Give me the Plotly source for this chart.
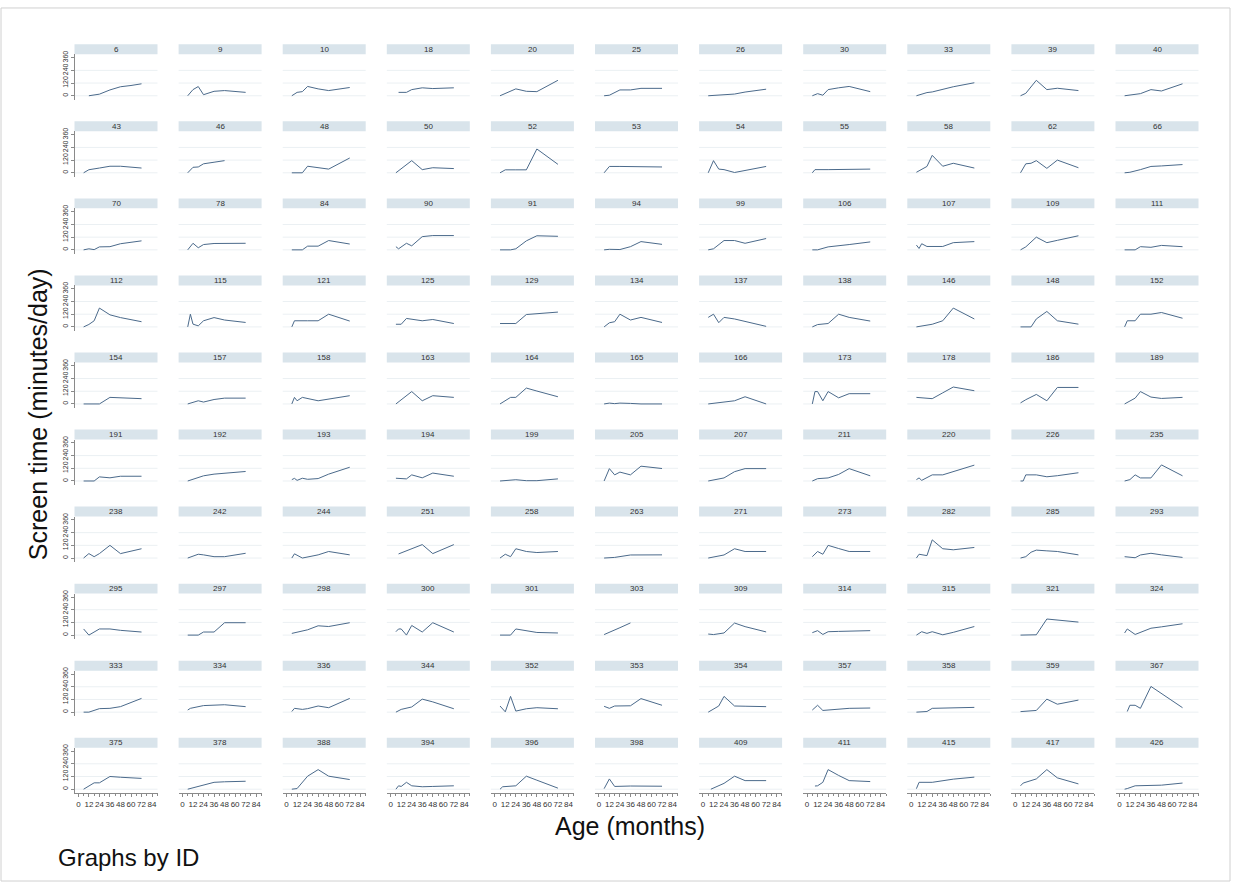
import plotly.graph_objects as go

# Child IDs, one panel each (11 columns x 10 rows)
ids = [6, 9, 10, 18, 20, 25, 26, 30, 33, 39, 40,
       43, 46, 48, 50, 52, 53, 54, 55, 58, 62, 66,
       70, 78, 84, 90, 91, 94, 99, 106, 107, 109, 111,
       112, 115, 121, 125, 129, 134, 137, 138, 146, 148, 152,
       154, 157, 158, 163, 164, 165, 166, 173, 178, 186, 189,
       191, 192, 193, 194, 199, 205, 207, 211, 220, 226, 235,
       238, 242, 244, 251, 258, 263, 271, 273, 282, 285, 293,
       295, 297, 298, 300, 301, 303, 309, 314, 315, 321, 324,
       333, 334, 336, 344, 352, 353, 354, 357, 358, 359, 367,
       375, 378, 388, 394, 396, 398, 409, 411, 415, 417, 426]

# Age at each visit (months), per child
ages = [
    [12, 24, 36, 48, 60, 72], [6, 12, 18, 24, 36, 48, 72], [6, 12, 18, 24, 36, 48, 72],
    [9, 18, 24, 36, 48, 72], [6, 24, 36, 48, 72], [6, 12, 24, 36, 48, 72],
    [6, 24, 36, 48, 72], [6, 12, 18, 24, 36, 48, 72], [6, 18, 24, 36, 48, 72],
    [6, 12, 24, 36, 48, 72], [6, 12, 24, 36, 48, 72],
    [6, 12, 24, 36, 48, 72], [6, 12, 18, 24, 36, 48], [6, 18, 24, 36, 48, 72],
    [6, 24, 36, 48, 72], [6, 12, 24, 36, 48, 72], [6, 12, 24, 36, 48, 72],
    [6, 12, 18, 24, 36, 48, 72], [6, 9, 24, 36, 48, 72], [6, 12, 18, 24, 36, 48, 72],
    [6, 12, 18, 24, 36, 48, 72], [6, 12, 24, 36, 48, 72],
    [6, 12, 18, 24, 36, 48, 72], [6, 12, 18, 24, 36, 48, 72], [6, 18, 24, 36, 48, 72],
    [6, 9, 18, 24, 36, 48, 72], [6, 18, 24, 36, 48, 72], [6, 12, 24, 36, 48, 72],
    [6, 12, 24, 36, 48, 72], [6, 12, 24, 36, 48, 72], [6, 9, 12, 18, 36, 48, 72],
    [6, 12, 24, 36, 48, 72], [6, 18, 24, 36, 48, 72],
    [6, 12, 18, 24, 36, 48, 72], [6, 9, 12, 18, 24, 36, 48, 72], [6, 9, 24, 36, 48, 72],
    [6, 12, 18, 36, 48, 72], [6, 24, 36, 48, 72], [6, 12, 18, 24, 36, 48, 72],
    [6, 12, 18, 24, 36, 72], [6, 12, 24, 36, 48, 72], [6, 24, 36, 48, 72],
    [6, 18, 24, 36, 48, 72], [6, 9, 18, 24, 36, 48, 72],
    [6, 12, 24, 36, 48, 72], [6, 18, 24, 36, 48, 72], [6, 9, 12, 18, 36, 48, 72],
    [6, 24, 36, 48, 72], [6, 18, 24, 36, 48, 72], [6, 12, 18, 24, 36, 48, 72],
    [6, 24, 36, 48, 72], [6, 9, 12, 18, 24, 36, 48, 72], [6, 24, 36, 48, 72],
    [6, 12, 24, 36, 48, 72], [6, 18, 24, 36, 48, 72],
    [6, 18, 24, 36, 48, 72], [6, 24, 36, 48, 72], [6, 9, 12, 18, 24, 36, 48, 72],
    [6, 18, 24, 36, 48, 72], [6, 24, 36, 48, 72], [6, 12, 18, 24, 36, 48, 72],
    [6, 24, 36, 48, 72], [6, 12, 24, 36, 48, 72], [6, 9, 12, 24, 36, 48, 72],
    [6, 9, 12, 24, 36, 48, 72], [6, 12, 18, 24, 36, 48, 72],
    [6, 12, 18, 24, 36, 48, 72], [6, 18, 24, 36, 48, 72], [6, 9, 18, 36, 48, 72],
    [9, 36, 48, 72], [6, 12, 18, 24, 36, 48, 72], [6, 18, 36, 48, 72],
    [6, 18, 24, 36, 48, 72], [6, 12, 18, 24, 36, 48, 72], [6, 9, 18, 24, 36, 48, 72],
    [6, 12, 18, 24, 36, 48, 72], [6, 12, 18, 24, 36, 48, 72],
    [6, 12, 24, 36, 48, 72], [6, 18, 24, 36, 48, 72], [6, 18, 24, 36, 48, 72],
    [6, 9, 12, 18, 24, 36, 48, 72], [6, 18, 24, 36, 48, 72], [6, 12, 24, 36],
    [6, 12, 24, 36, 48, 72], [6, 12, 18, 24, 36, 48, 72], [6, 12, 18, 24, 36, 48, 72],
    [6, 24, 36, 48, 72], [6, 9, 18, 24, 36, 48, 72],
    [6, 12, 24, 36, 48, 60, 72], [6, 9, 24, 36, 48, 72], [6, 9, 18, 24, 36, 48, 72],
    [6, 12, 24, 36, 48, 72], [6, 12, 18, 24, 36, 48, 72], [6, 12, 18, 36, 48, 72],
    [6, 18, 24, 36, 48, 72], [6, 12, 18, 36, 48, 72], [6, 18, 24, 36, 48, 72],
    [6, 24, 36, 48, 72], [9, 12, 18, 24, 36, 48, 72],
    [6, 18, 24, 36, 48, 72], [6, 24, 36, 48, 72], [6, 12, 24, 36, 48, 72],
    [6, 9, 12, 18, 24, 36, 48, 72], [6, 9, 24, 36, 48, 72], [6, 12, 18, 36, 72],
    [9, 24, 36, 48, 72], [9, 12, 18, 24, 36, 48, 72], [6, 9, 24, 36, 48, 72],
    [6, 9, 24, 36, 48, 72], [6, 9, 18, 36, 48, 72],
]

# Screen time (minutes/day) at each visit, per child
minutes = [
    [0, 15, 55, 85, 97, 113], [0, 58, 87, 10, 42, 49, 32], [0, 32, 39, 88, 65, 49, 78],
    [32, 32, 58, 75, 68, 75], [0, 65, 42, 39, 146], [0, 5, 55, 55, 70, 70],
    [0, 8, 16, 35, 62], [0, 20, 5, 58, 75, 88, 39], [0, 30, 36, 62, 85, 123],
    [0, 23, 146, 58, 71, 49], [0, 5, 20, 58, 45, 113],
    [0, 29, 45, 62, 62, 45], [0, 52, 55, 85, 100, 115], [0, 0, 62, 50, 35, 140],
    [0, 115, 30, 48, 40], [0, 28, 28, 28, 225, 80], [0, 60, 60, 60, 60, 55],
    [0, 115, 35, 30, 3, 20, 60], [0, 30, 30, 32, 33, 35], [5, 35, 60, 165, 62, 90, 45],
    [0, 85, 90, 115, 42, 120, 48], [0, 5, 30, 60, 65, 78],
    [0, 10, 2, 28, 30, 58, 85], [0, 62, 20, 50, 60, 62, 62], [0, 0, 35, 35, 88, 55],
    [30, 10, 62, 38, 125, 135, 135], [0, 0, 10, 85, 133, 128], [0, 5, 3, 30, 78, 52],
    [0, 10, 88, 88, 62, 107], [0, 0, 28, 36, 50, 75], [45, 13, 58, 32, 32, 68, 78],
    [0, 28, 120, 68, 90, 133], [0, 0, 30, 24, 42, 30],
    [0, 23, 58, 178, 114, 88, 49], [0, 120, 26, 10, 58, 88, 65, 42], [0, 58, 58, 58, 120, 55],
    [25, 25, 80, 58, 70, 32], [32, 32, 117, 125, 140], [0, 39, 49, 120, 65, 90, 42],
    [90, 120, 40, 90, 75, 5], [0, 22, 32, 120, 90, 55], [0, 25, 58, 178, 75],
    [0, 0, 75, 146, 58, 26], [0, 58, 58, 120, 120, 136, 82],
    [0, 0, 0, 62, 58, 50], [0, 30, 18, 42, 55, 55], [0, 62, 30, 62, 30, 45, 78],
    [0, 117, 30, 78, 62], [0, 62, 62, 150, 122, 68], [0, 8, 3, 8, 5, 0, 0],
    [0, 20, 30, 68, 0], [0, 117, 117, 30, 117, 58, 97, 97], [62, 50, 105, 160, 125],
    [10, 40, 90, 30, 156, 156], [0, 55, 117, 65, 52, 62],
    [0, 0, 39, 30, 45, 45], [0, 49, 65, 75, 90], [13, 25, 6, 26, 16, 23, 65, 130],
    [26, 20, 58, 30, 75, 45], [0, 12, 3, 3, 20], [0, 117, 58, 84, 58, 140, 118],
    [0, 29, 88, 117, 117], [0, 22, 29, 62, 117, 49], [13, 29, 6, 58, 58, 88, 150],
    [0, 0, 58, 58, 40, 50, 78], [0, 13, 58, 29, 29, 152, 49],
    [0, 42, 13, 42, 120, 42, 88], [0, 36, 30, 13, 13, 45], [0, 40, 0, 30, 62, 30],
    [39, 127, 42, 127], [0, 36, 13, 88, 62, 52, 62], [0, 6, 29, 30, 30],
    [0, 23, 29, 88, 62, 62], [13, 62, 36, 120, 90, 62, 62], [0, 36, 23, 172, 88, 78, 100],
    [0, 13, 55, 75, 68, 62, 30], [13, 6, 3, 29, 45, 30, 6],
    [58, 0, 58, 58, 45, 29], [0, 0, 29, 29, 117, 117], [16, 36, 50, 88, 81, 117],
    [32, 58, 58, 0, 91, 29, 117, 29], [0, 0, 58, 39, 25, 20], [5, 25, 70, 115],
    [10, 5, 20, 114, 80, 30], [23, 42, 6, 32, 35, 38, 42], [0, 32, 16, 32, 3, 26, 81],
    [0, 3, 152, 143, 123], [20, 58, 6, 26, 65, 78, 107],
    [0, 0, 33, 36, 52, 92, 130], [20, 36, 62, 65, 70, 52], [6, 36, 26, 33, 58, 42, 130],
    [0, 26, 49, 123, 97, 32], [58, 3, 149, 10, 32, 42, 32], [55, 36, 58, 60, 128, 65],
    [0, 58, 149, 58, 56, 52], [20, 65, 16, 32, 36, 39], [0, 6, 36, 38, 41, 45],
    [5, 16, 123, 75, 114], [6, 65, 65, 36, 243, 176, 42],
    [0, 60, 60, 120, 113, 102], [0, 39, 65, 70, 75], [0, 6, 123, 185, 123, 91],
    [0, 32, 26, 65, 32, 23, 26, 32], [0, 23, 32, 123, 85, 10], [5, 97, 26, 30, 28],
    [0, 55, 123, 81, 81], [30, 32, 65, 185, 130, 81, 72], [5, 65, 65, 80, 95, 114],
    [32, 58, 97, 185, 107, 50], [0, 6, 32, 32, 38, 58],
]

x_ticks = [0, 12, 24, 36, 48, 60, 72, 84]
y_ticks = [0, 120, 240, 360]
y_grid = [0, 120, 240]

W, H = 1233, 882
NCOL, NROW = 11, 10
COL_C0, COL_PITCH, HALF_W = 116.0, 104.1, 41.5
ROW_T0, ROW_PITCH, HEAD_H, PANEL_H = 40.5, 77.4, 10.0, 55.5

LINE_COLOR = "#4b6a8b"
HEAD_FILL = "#d9e4eb"
GRID_COLOR = "#ebf0f3"
AXIS_COLOR = "#8a8a8a"
NARROW = "Liberation Sans Narrow, Arial Narrow, Liberation Sans, Arial"
TICK_FONT = dict(family=NARROW, size=8, color="#333333")
MAIN_FONT = "Liberation Sans, Arial"


def fx(px):
    return px / W


def fy(py):
    return 1 - py / H


fig = go.Figure()
layout = dict(
    width=W, height=H, autosize=False,
    margin=dict(l=0, r=0, t=0, b=0),
    paper_bgcolor="white", plot_bgcolor="white",
    showlegend=False,
)
shapes = []
annotations = []

for i, pid in enumerate(ids):
    r, c = divmod(i, NCOL)
    k = "" if i == 0 else str(i + 1)
    left = COL_C0 + COL_PITCH * c - HALF_W
    right = COL_C0 + COL_PITCH * c + HALF_W
    top = ROW_T0 + ROW_PITCH * r
    head_bottom = top + HEAD_H
    bottom = top + PANEL_H

    fig.add_trace(go.Scatter(
        x=ages[i], y=minutes[i], mode="lines",
        line=dict(color=LINE_COLOR, width=1),
        xaxis="x" + k, yaxis="y" + k, hoverinfo="x+y",
    ))

    bottom_row = (r == NROW - 1)
    first_col = (c == 0)

    layout["xaxis" + k] = dict(
        domain=[fx(left), fx(right)], anchor="y" + k,
        range=[-4.4, 90.2], showgrid=False, zeroline=False,
        showline=bottom_row, linecolor=AXIS_COLOR, linewidth=1,
        tickvals=x_ticks if bottom_row else [],
        ticks="outside" if bottom_row else "", ticklen=3, tickcolor=AXIS_COLOR,
        showticklabels=bottom_row, tickangle=0, tickfont=TICK_FONT,
        minor=dict(dtick=6, tick0=0, ticks="outside" if bottom_row else "",
                   ticklen=2, tickcolor=AXIS_COLOR),
        fixedrange=True,
    )
    layout["yaxis" + k] = dict(
        domain=[fy(bottom), fy(head_bottom)], anchor="x" + k,
        range=[-36, 392], showgrid=False, zeroline=False,
        showline=first_col, linecolor=AXIS_COLOR, linewidth=1,
        tickvals=y_ticks if first_col else [],
        ticks="outside" if first_col else "", ticklen=3, tickcolor=AXIS_COLOR,
        showticklabels=first_col, tickangle=-90,
        tickfont=dict(family=NARROW, size=7, color="#333333"),
        fixedrange=True,
    )

    # light horizontal reference lines
    for g in y_grid:
        shapes.append(dict(
            type="line", xref="x" + k + " domain", yref="y" + k,
            x0=0, x1=1, y0=g, y1=g, layer="below",
            line=dict(color=GRID_COLOR, width=1),
        ))

    # strip header with the ID
    shapes.append(dict(
        type="rect", xref="paper", yref="paper",
        x0=fx(left), x1=fx(right), y0=fy(head_bottom), y1=fy(top),
        fillcolor=HEAD_FILL, line=dict(width=0), layer="below",
    ))
    annotations.append(dict(
        xref="paper", yref="paper", x=fx((left + right) / 2), y=fy((top + head_bottom) / 2),
        text=str(pid), showarrow=False, xanchor="center", yanchor="middle",
        font=dict(family=NARROW, size=8, color="#333333"),
    ))

# overall titles and note
annotations.append(dict(
    xref="paper", yref="paper", x=fx(38), y=fy(412), text="Screen time (minutes/day)",
    textangle=-90, showarrow=False, xanchor="center", yanchor="middle",
    font=dict(family=MAIN_FONT, size=25, color="#111111"),
))
annotations.append(dict(
    xref="paper", yref="paper", x=fx(630), y=fy(826), text="Age (months)",
    showarrow=False, xanchor="center", yanchor="middle",
    font=dict(family=MAIN_FONT, size=25, color="#111111"),
))
annotations.append(dict(
    xref="paper", yref="paper", x=fx(56), y=fy(857), text="Graphs by ID",
    showarrow=False, xanchor="left", yanchor="middle",
    font=dict(family=MAIN_FONT, size=24, color="#111111"),
))

# thin frame around the whole graph
shapes.append(dict(
    type="rect", xref="paper", yref="paper", x0=fx(1), x1=fx(W - 3), y0=fy(H - 1), y1=fy(4),
    line=dict(color="#d0d0d0", width=1), fillcolor="rgba(0,0,0,0)", layer="below",
))

layout["shapes"] = shapes
layout["annotations"] = annotations
fig.update_layout(**layout)

fig.write_html("out.html")
